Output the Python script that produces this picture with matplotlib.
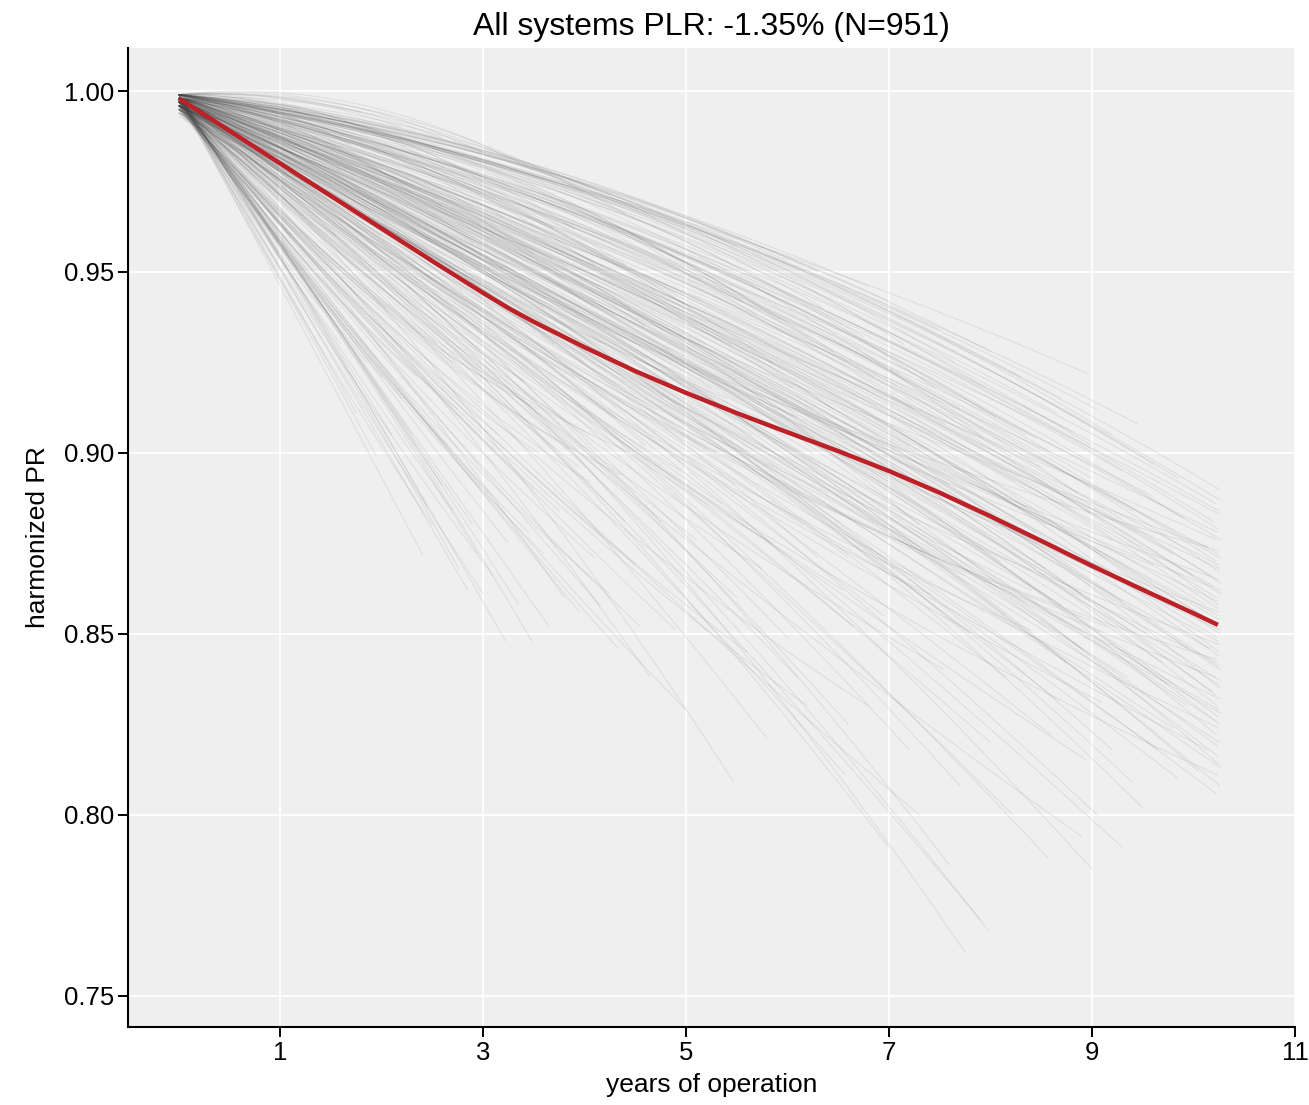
import numpy as np
import matplotlib
matplotlib.use("Agg")
import matplotlib.pyplot as plt
from matplotlib.collections import LineCollection

plt.rcParams['font.family'] = ['Liberation Sans', 'DejaVu Sans']

# Per-system trajectories: end of record (years), PR at the end of record,
# mid-life offset from the straight chord, and PR at commissioning.
end_year = [
    # systems with the full ~10 year record
    10.25, 10.22, 10.26, 10.20, 10.24, 10.27, 10.15, 10.25, 10.23, 10.26,
    10.18, 10.25, 10.21, 10.27, 10.24, 10.12, 10.26, 10.25, 10.20, 10.27,
    10.23, 10.26, 10.16, 10.25, 10.24, 10.27, 10.22, 10.25, 10.19, 10.26,
    10.24, 10.27, 10.21, 10.25, 10.23, 10.26, 10.14, 10.25, 10.27, 10.24,
    10.26, 10.22, 10.25, 10.26, 10.24, 10.27, 10.25, 10.23, 10.26, 10.25,
    # 8.4 - 10 years
    8.70, 8.65, 8.80, 9.00, 9.30, 9.60, 9.90, 8.50, 9.20, 9.50,
    8.90, 9.70, 9.10, 8.60, 8.57, 9.00, 9.30, 8.90, 9.40, 9.80,
    8.40, 8.80, 9.95, 9.60, 8.45, 9.05, 9.75, 8.75, 9.45, 8.55,
    9.15, 9.85, 8.85, 9.35, 8.95,
    # 6.5 - 8.4 years
    6.80, 7.00, 7.50, 8.00, 8.30, 7.20, 7.60, 6.90, 8.10, 7.40,
    7.80, 6.60, 7.75, 7.98, 7.90, 8.22, 6.57, 7.00, 7.30, 7.60,
    8.00, 6.80, 7.10, 7.70, 8.20, 6.70, 7.30, 7.90, 6.95, 7.45,
    8.35, 6.65, 7.55, 8.15, 7.05,
    # 4.5 - 6.5 years
    5.00, 5.50, 6.00, 6.30, 4.70, 5.20, 5.60, 6.10, 4.80, 5.90,
    6.40, 5.30, 4.60, 4.65, 5.47, 5.00, 5.80, 6.20, 4.90, 5.50,
    6.00, 5.10, 6.30, 5.70, 6.20, 4.90, 5.40, 6.45, 4.75, 5.85,
    # 2.5 - 4.5 years
    3.00, 3.50, 4.00, 4.40, 2.60, 3.20, 3.60, 4.20, 2.80, 3.90,
    4.30, 3.40, 3.22, 3.48, 4.33, 2.76, 3.00, 3.80, 4.10, 2.90,
    3.50, 4.40, 2.60, 3.70, 4.10, 2.90, 3.30, 4.45, 2.70, 3.85,
    # under 2.5 years
    1.20, 1.80, 2.20, 1.50, 2.00, 2.40, 1.00, 1.75, 2.00, 2.30,
    1.40, 2.45, 1.90, 2.20, 0.90,
    # fast early decliners
    1.60, 2.10, 2.50, 2.85, 3.10, 3.35, 3.60, 3.95, 4.25, 4.55,
    2.20, 2.65, 3.05, 3.45, 3.75, 4.05, 4.50, 1.30, 1.85, 2.35,
    2.75, 3.15, 3.55, 3.95, 4.35, 2.95, 3.25, 3.65, 4.15, 1.55,
    2.05, 2.55, 3.05, 3.55, 4.05, 4.45, 2.40, 2.70, 1.95, 1.10,
    # mid-length records
    4.60, 4.85, 5.05, 5.25, 5.45, 5.65, 5.85, 6.05, 6.25, 6.45,
    6.65, 6.85, 7.05, 7.25, 7.45, 7.65, 7.85, 8.05, 8.25, 8.45,
    4.70, 5.15, 5.55, 5.95, 6.35, 6.75, 7.15, 7.55, 7.95, 8.35,
    4.95, 5.35, 5.75, 6.15, 6.55, 6.95, 7.35, 7.75, 8.15, 8.40,
    5.60, 6.10, 6.60, 7.20, 7.70,
    # long records
    10.25, 10.24, 10.26, 10.25, 10.27, 10.23, 10.25, 10.26, 10.24, 10.25,
    10.27, 10.22, 10.25, 10.26, 10.24, 10.25, 10.27, 10.23, 10.26, 10.25,
    9.00, 9.20, 9.40, 9.60, 9.80, 10.00, 8.60, 8.80, 9.10, 9.30,
    9.55, 9.75, 9.95, 8.70, 8.90, 9.20, 9.50, 9.05, 8.65, 9.65,
    10.05, 8.55, 9.85, 9.45, 8.95,
    # short, slowly declining records
    1.40, 1.70, 2.00, 2.30, 2.60, 2.90, 3.20, 3.50, 3.80, 4.10,
    4.40, 4.70, 1.60, 2.10, 2.50, 2.80, 3.10, 3.40, 3.70, 4.00,
    4.30, 4.60, 2.40, 3.00, 3.90,
]

end_pr = [
    0.890, 0.886, 0.883, 0.881, 0.878, 0.876, 0.874, 0.872, 0.870, 0.868,
    0.866, 0.865, 0.863, 0.861, 0.859, 0.858, 0.856, 0.855, 0.853, 0.851,
    0.849, 0.847, 0.846, 0.844, 0.842, 0.840, 0.838, 0.836, 0.834, 0.832,
    0.830, 0.828, 0.826, 0.824, 0.822, 0.820, 0.818, 0.816, 0.813, 0.811,
    0.808, 0.806, 0.873, 0.867, 0.857, 0.852, 0.845, 0.843, 0.835, 0.827,
    0.915, 0.911, 0.906, 0.902, 0.895, 0.888, 0.882, 0.896, 0.876, 0.862,
    0.861, 0.842, 0.831, 0.822, 0.788, 0.785, 0.791, 0.794, 0.809, 0.824,
    0.851, 0.871, 0.846, 0.869, 0.904, 0.912, 0.858, 0.842, 0.878, 0.880,
    0.852, 0.810, 0.889, 0.838, 0.815,
    0.946, 0.942, 0.934, 0.928, 0.921, 0.902, 0.891, 0.880, 0.870, 0.861,
    0.850, 0.871, 0.762, 0.768, 0.771, 0.800, 0.811, 0.791, 0.800, 0.786,
    0.820, 0.830, 0.922, 0.912, 0.899, 0.915, 0.880, 0.905, 0.902, 0.918,
    0.885, 0.852, 0.840, 0.855, 0.868,
    0.962, 0.957, 0.953, 0.950, 0.965, 0.930, 0.921, 0.910, 0.920, 0.896,
    0.889, 0.900, 0.902, 0.838, 0.809, 0.829, 0.821, 0.830, 0.851, 0.860,
    0.849, 0.876, 0.871, 0.938, 0.932, 0.944, 0.915, 0.912, 0.881, 0.875,
    0.983, 0.978, 0.972, 0.966, 0.987, 0.951, 0.940, 0.930, 0.955, 0.921,
    0.910, 0.920, 0.848, 0.848, 0.846, 0.868, 0.861, 0.860, 0.871, 0.880,
    0.890, 0.881, 0.891, 0.962, 0.952, 0.968, 0.935, 0.940, 0.925, 0.901,
    0.995, 0.994, 0.990, 0.971, 0.960, 0.940, 0.955, 0.911, 0.921, 0.905,
    0.940, 0.885, 0.950, 0.930, 0.985,
    0.930, 0.905, 0.880, 0.862, 0.866, 0.858, 0.872, 0.856, 0.861, 0.852,
    0.915, 0.902, 0.889, 0.878, 0.884, 0.892, 0.869, 0.948, 0.925, 0.921,
    0.912, 0.905, 0.900, 0.896, 0.894, 0.872, 0.875, 0.852, 0.858, 0.960,
    0.940, 0.930, 0.920, 0.912, 0.905, 0.900, 0.872, 0.884, 0.899, 0.960,
    0.935, 0.928, 0.940, 0.918, 0.930, 0.905, 0.925, 0.918, 0.900, 0.928,
    0.905, 0.921, 0.895, 0.912, 0.898, 0.925, 0.884, 0.910, 0.892, 0.878,
    0.912, 0.948, 0.942, 0.936, 0.940, 0.932, 0.930, 0.908, 0.918, 0.905,
    0.895, 0.886, 0.868, 0.880, 0.862, 0.855, 0.872, 0.866, 0.838, 0.862,
    0.845, 0.838, 0.825, 0.818, 0.808,
    0.884, 0.879, 0.871, 0.869, 0.864, 0.860, 0.854, 0.850, 0.848, 0.841,
    0.837, 0.833, 0.829, 0.825, 0.819, 0.814, 0.862, 0.876, 0.887, 0.858,
    0.893, 0.905, 0.884, 0.897, 0.872, 0.866, 0.900, 0.885, 0.868, 0.859,
    0.850, 0.836, 0.830, 0.858, 0.846, 0.818, 0.802, 0.800, 0.832, 0.818,
    0.812, 0.868, 0.893, 0.908, 0.922,
    0.992, 0.985, 0.978, 0.972, 0.968, 0.958, 0.965, 0.955, 0.948, 0.940,
    0.952, 0.945, 0.978, 0.966, 0.958, 0.945, 0.940, 0.948, 0.930, 0.925,
    0.938, 0.926, 0.982, 0.975, 0.962,
]

mid_offset = [
    0.016, 0.014, 0.010, 0.015, 0.006, 0.012, -0.004, 0.008, 0.014, 0.002,
    0.010, -0.006, 0.006, 0.012, 0.000, 0.008, -0.008, 0.004, 0.010, -0.002,
    0.006, -0.010, 0.002, 0.012, -0.004, 0.008, -0.012, 0.004, 0.010, -0.006,
    0.014, -0.002, 0.006, -0.010, 0.016, 0.002, -0.008, 0.010, 0.004, -0.014,
    0.012, 0.006, -0.010, 0.016, 0.014, 0.008, 0.016, -0.016, 0.018, 0.010,
    0.012, 0.012, 0.010, 0.014, 0.012, 0.008, 0.014, 0.004, 0.008, -0.004,
    0.010, 0.006, -0.008, 0.004, 0.012, 0.016, 0.008, -0.006, 0.014, 0.002,
    -0.010, 0.004, 0.010, -0.006, 0.012, 0.012, 0.016, 0.008, 0.004, 0.010,
    -0.012, 0.006, 0.016, 0.002, -0.004,
    0.007, 0.008, 0.009, 0.011, 0.012, 0.006, 0.002, -0.004, 0.008, -0.008,
    0.006, 0.004, 0.020, 0.014, 0.010, 0.008, 0.006, 0.012, -0.006, 0.016,
    0.004, -0.010, 0.010, 0.008, 0.012, 0.004, 0.014, 0.018, -0.002, 0.016,
    0.006, 0.002, -0.008, 0.010, 0.006,
    0.006, 0.007, 0.008, 0.008, 0.008, 0.004, 0.006, -0.002, 0.002, 0.004,
    -0.006, -0.004, 0.004, 0.006, 0.012, -0.006, 0.008, -0.010, -0.004, 0.002,
    0.006, -0.002, 0.008, 0.010, 0.012, 0.006, -0.004, 0.010, 0.004, -0.006,
    0.006, 0.008, 0.008, 0.010, 0.004, 0.002, 0.004, -0.002, 0.002, -0.004,
    0.002, -0.004, 0.002, 0.004, -0.004, 0.002, -0.002, 0.004, -0.006, 0.000,
    -0.004, 0.002, 0.000, 0.006, 0.008, 0.004, -0.002, 0.006, -0.004, -0.006,
    0.001, 0.002, 0.003, 0.001, 0.000, -0.002, 0.000, 0.000, -0.002, 0.000,
    -0.002, 0.002, 0.002, 0.000, 0.000,
    -0.002, 0.000, -0.003, 0.000, -0.004, 0.002, -0.006, -0.002, -0.008, -0.006,
    -0.002, -0.004, -0.002, -0.006, -0.004, -0.008, -0.006, 0.000, -0.002, -0.004,
    -0.006, -0.004, -0.008, -0.004, -0.010, 0.002, -0.002, 0.000, -0.002, -0.002,
    -0.002, -0.004, -0.006, -0.008, -0.006, -0.010, 0.000, -0.002, 0.000, 0.000,
    0.006, 0.004, 0.008, 0.002, 0.006, -0.002, 0.010, 0.008, 0.002, 0.012,
    0.006, 0.010, 0.004, 0.010, 0.008, 0.014, 0.004, 0.012, 0.008, 0.002,
    0.000, 0.010, 0.012, 0.012, 0.012, 0.012, 0.014, 0.010, 0.014, 0.012,
    -0.004, -0.002, -0.006, 0.000, -0.004, 0.002, 0.004, -0.006, 0.006, -0.004,
    -0.008, 0.004, 0.008, 0.010, 0.012,
    0.012, 0.016, 0.010, 0.006, 0.014, 0.010, 0.006, 0.012, 0.002, 0.010,
    0.006, 0.014, 0.000, 0.012, 0.008, 0.016, -0.004, 0.002, 0.016, 0.018,
    0.010, 0.016, 0.010, 0.016, 0.008, 0.012, 0.012, 0.008, 0.006, 0.010,
    0.004, 0.010, 0.006, 0.002, 0.008, 0.012, 0.016, 0.010, 0.006, 0.004,
    0.014, 0.004, 0.016, 0.012, 0.008,
    0.002, 0.003, 0.003, 0.004, 0.004, 0.004, 0.006, 0.006, 0.006, 0.006,
    0.008, 0.008, 0.002, 0.002, 0.004, 0.002, 0.004, 0.006, 0.004, 0.002,
    0.006, 0.004, 0.005, 0.006, 0.008,
]

start_pr = [
    0.999, 0.998, 0.997, 0.999, 0.996, 0.998, 0.995, 0.997, 0.999, 0.996,
    0.998, 0.994, 0.997, 0.999, 0.996, 0.998, 0.995, 0.997, 0.998, 0.996,
    0.999, 0.994, 0.997, 0.998, 0.996, 0.999, 0.995, 0.997, 0.998, 0.996,
    0.999, 0.997, 0.995, 0.998, 0.999, 0.996, 0.997, 0.998, 0.996, 0.995,
    0.999, 0.997, 0.993, 0.999, 0.998, 0.997, 0.999, 0.994, 0.998, 0.996,
    0.999, 0.998, 0.997, 0.999, 0.998, 0.997, 0.999, 0.996, 0.998, 0.995,
    0.997, 0.998, 0.996, 0.997, 0.998, 0.999, 0.997, 0.995, 0.998, 0.996,
    0.994, 0.997, 0.998, 0.996, 0.999, 0.999, 0.998, 0.997, 0.996, 0.998,
    0.995, 0.997, 0.999, 0.996, 0.997,
    0.999, 0.999, 0.998, 0.999, 0.998, 0.997, 0.996, 0.995, 0.997, 0.996,
    0.998, 0.997, 0.999, 0.998, 0.997, 0.998, 0.996, 0.998, 0.995, 0.999,
    0.997, 0.994, 0.998, 0.997, 0.999, 0.997, 0.999, 0.999, 0.996, 0.998,
    0.997, 0.996, 0.995, 0.998, 0.997,
    0.999, 0.999, 0.998, 0.999, 0.998, 0.997, 0.997, 0.996, 0.996, 0.997,
    0.995, 0.996, 0.997, 0.998, 0.999, 0.996, 0.997, 0.995, 0.996, 0.997,
    0.998, 0.996, 0.997, 0.998, 0.999, 0.998, 0.995, 0.998, 0.997, 0.996,
    0.999, 0.999, 0.998, 0.999, 0.999, 0.997, 0.997, 0.996, 0.997, 0.996,
    0.997, 0.996, 0.999, 0.998, 0.997, 0.999, 0.998, 0.997, 0.996, 0.998,
    0.997, 0.996, 0.998, 0.998, 0.999, 0.998, 0.996, 0.998, 0.997, 0.995,
    0.999, 0.999, 0.999, 0.998, 0.997, 0.997, 0.999, 0.999, 0.998, 0.998,
    0.998, 0.999, 0.997, 0.996, 0.998,
    0.998, 0.999, 0.998, 0.999, 0.997, 0.998, 0.997, 0.998, 0.996, 0.997,
    0.999, 0.998, 0.997, 0.998, 0.996, 0.997, 0.998, 0.999, 0.998, 0.997,
    0.998, 0.996, 0.997, 0.998, 0.996, 0.999, 0.998, 0.997, 0.998, 0.997,
    0.998, 0.997, 0.998, 0.996, 0.997, 0.995, 0.999, 0.998, 0.999, 0.998,
    0.998, 0.997, 0.999, 0.996, 0.998, 0.997, 0.999, 0.998, 0.996, 0.999,
    0.997, 0.998, 0.997, 0.999, 0.998, 0.999, 0.996, 0.998, 0.997, 0.996,
    0.996, 0.999, 0.998, 0.999, 0.999, 0.998, 0.999, 0.997, 0.998, 0.999,
    0.996, 0.997, 0.995, 0.997, 0.996, 0.997, 0.998, 0.995, 0.997, 0.996,
    0.995, 0.997, 0.998, 0.998, 0.999,
    0.998, 0.999, 0.997, 0.996, 0.998, 0.997, 0.996, 0.998, 0.995, 0.997,
    0.996, 0.998, 0.995, 0.998, 0.997, 0.999, 0.994, 0.995, 0.999, 0.999,
    0.998, 0.999, 0.997, 0.999, 0.997, 0.998, 0.998, 0.997, 0.996, 0.998,
    0.996, 0.997, 0.996, 0.996, 0.997, 0.998, 0.999, 0.998, 0.997, 0.996,
    0.998, 0.996, 0.999, 0.999, 0.999,
    0.999, 0.999, 0.998, 0.999, 0.998, 0.997, 0.999, 0.998, 0.998, 0.997,
    0.999, 0.998, 0.998, 0.997, 0.998, 0.997, 0.998, 0.999, 0.997, 0.996,
    0.998, 0.997, 0.999, 0.999, 0.998,
]

# Fleet-wide mean trajectory
mean_year = [0.0, 0.5, 1.0, 1.5, 2.0, 2.5, 2.75, 3.0, 3.25, 3.5, 4.0, 4.5,
             5.0, 5.5, 6.0, 6.5, 7.0, 7.5, 8.0, 8.5, 9.0, 9.5, 10.0, 10.24]
mean_pr = [0.998, 0.989, 0.980, 0.971, 0.962, 0.9530, 0.9486, 0.9442,
           0.9400, 0.9362, 0.9292, 0.9226, 0.9166, 0.9110, 0.9057, 0.9005,
           0.8950, 0.8890, 0.8825, 0.8757, 0.8688, 0.8622, 0.8557, 0.8525]

x_ticks = [1, 3, 5, 7, 9, 11]
y_ticks = [0.75, 0.80, 0.85, 0.90, 0.95, 1.00]

assert len(end_year) == len(end_pr) == len(mid_offset) == len(start_pr)
assert len(mean_year) == len(mean_pr)

# Each system curve: smooth quadratic through start, mid-life and end point
u = np.linspace(0.0, 1.0, 30)
l0 = 2 * (u - 0.5) * (u - 1.0)
l1 = -4 * u * (u - 1.0)
l2 = 2 * u * (u - 0.5)
segments = []
for T, e, d, s in zip(end_year, end_pr, mid_offset, start_pr):
    m = 0.5 * (s + e) + d
    y = s * l0 + m * l1 + e * l2
    segments.append(np.column_stack([u * T, y]))

fig = plt.figure(figsize=(13.09, 11.05), dpi=100)
ax = fig.add_axes([0.0978, 0.0706, 0.8915, 0.886])
ax.set_facecolor('#efefef')

ax.add_collection(LineCollection(segments, colors='#484848', linewidths=0.8,
                                 alpha=0.10, zorder=2))
ax.plot(mean_year, mean_pr, color='#bb2127', lw=3.2, zorder=3,
        solid_capstyle='butt', solid_joinstyle='round')

ax.set_xlim(-0.5, 11)
ax.set_ylim(0.7414, 1.0119)
ax.set_xticks(x_ticks)
ax.set_yticks(y_ticks)
ax.set_yticklabels([f"{v:.2f}" for v in y_ticks])
ax.grid(True, color='white', lw=1.3, zorder=1)
ax.set_axisbelow(True)

for side in ('top', 'right'):
    ax.spines[side].set_visible(False)
for side in ('left', 'bottom'):
    ax.spines[side].set_linewidth(1.5)
    ax.spines[side].set_color('black')
ax.tick_params(axis='both', length=7, width=1.4, labelsize=18.5,
               color='black', pad=3)

ax.set_xlabel('years of operation', fontsize=19, labelpad=6)
ax.set_ylabel('harmonized PR', fontsize=19, labelpad=10)
ax.set_title('All systems PLR: -1.35% (N=951)', fontsize=23, pad=9)

fig.savefig('out.png', dpi=100, facecolor='white')
